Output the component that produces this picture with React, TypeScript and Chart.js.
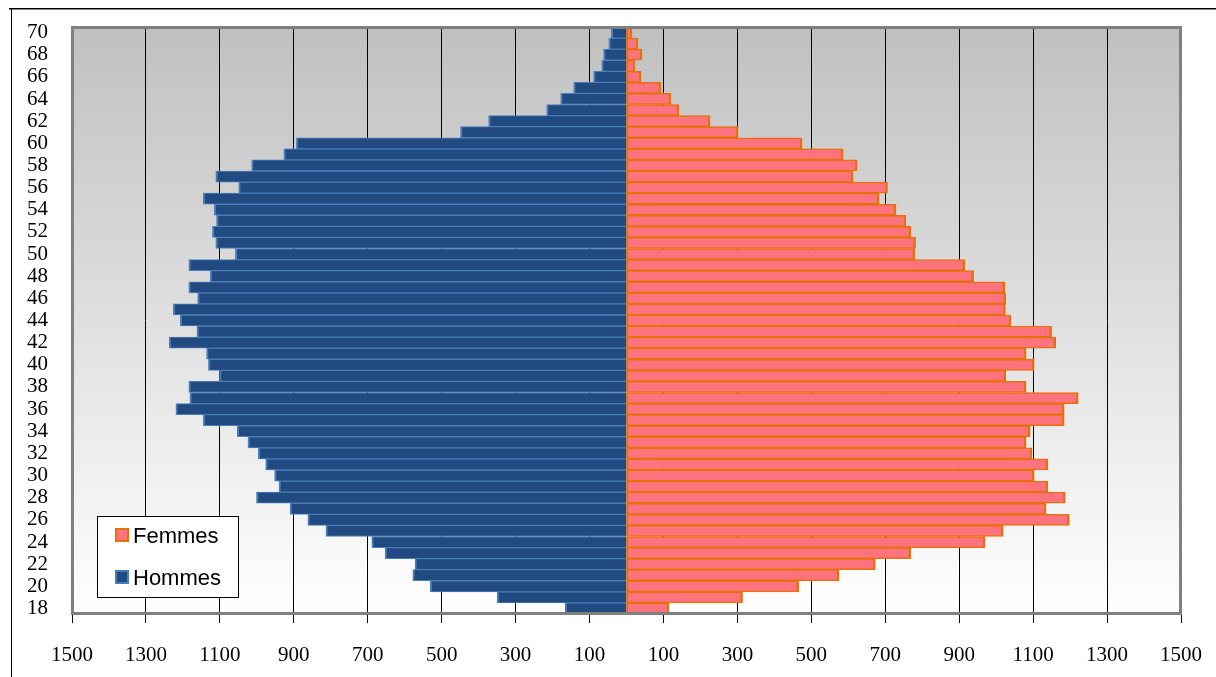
import React, { useEffect, useRef } from "react";
import { Chart, registerables } from "chart.js";

Chart.register(...registerables);

// Ages (categories), bottom to top
const ages: string[] = [
  "18", "19", "20", "21", "22", "23", "24", "25", "26", "27",
  "28", "29", "30", "31", "32", "33", "34", "35", "36", "37",
  "38", "39", "40", "41", "42", "43", "44", "45", "46", "47",
  "48", "49", "50", "51", "52", "53", "54", "55", "56", "57",
  "58", "59", "60", "61", "62", "63", "64", "65", "66", "67",
  "68", "69", "70",
];

// Hommes (men), ages 18..70
const hommes: number[] = [
  166, 350, 531, 578, 572, 653, 689, 813, 862, 910,
  1001, 940, 952, 976, 996, 1024, 1053, 1145, 1219, 1181,
  1184, 1101, 1131, 1136, 1237, 1162, 1207, 1226, 1160, 1184,
  1126, 1184, 1058, 1111, 1120, 1109, 1115, 1145, 1049, 1111,
  1014, 927, 893, 449, 373, 216, 178, 143, 89, 67,
  62, 48, 41,
];

// Femmes (women), ages 18..70
const femmes: number[] = [
  115, 314, 466, 575, 673, 769, 970, 1019, 1198, 1135,
  1187, 1140, 1103, 1140, 1097, 1081, 1092, 1184, 1184, 1222,
  1081, 1026, 1103, 1081, 1161, 1150, 1040, 1025, 1026, 1023,
  939, 915, 780, 782, 769, 756, 729, 683, 706, 613,
  624, 586, 475, 302, 226, 142, 120, 93, 39, 23,
  42, 31, 15,
];

const seriesNames: string[] = ["Femmes", "Hommes"];
const xMin = -1500;
const xMax = 1500;
const xStep = 200;

const FEMME_FILL = "#ff737f";
const FEMME_BORDER = "#e8700a";
const HOMME_FILL = "#204a80";
const HOMME_BORDER = "#4a7ebb";

const SERIF = '"Liberation Serif", "Times New Roman", serif';
const SANS = '"Liberation Sans", Arial, sans-serif';

const backgroundPlugin = {
  id: "bgPlugin",
  beforeDraw(chart: any) {
    const { ctx, chartArea, width, height } = chart;
    ctx.save();
    ctx.fillStyle = "#ffffff";
    ctx.fillRect(0, 0, width, height);
    const g = ctx.createLinearGradient(0, chartArea.top, 0, chartArea.bottom);
    g.addColorStop(0, "#c0c0c0");
    g.addColorStop(1, "#ffffff");
    ctx.fillStyle = g;
    ctx.fillRect(chartArea.left, chartArea.top, chartArea.right - chartArea.left, chartArea.bottom - chartArea.top);
    // outer frame (top and left)
    ctx.fillStyle = "#000000";
    ctx.fillRect(9, 8, width - 9, 1);
    ctx.fillStyle = "#808080";
    ctx.fillRect(9, 9, width - 9, 1);
    ctx.fillStyle = "#000000";
    ctx.fillRect(11, 9, 1, height - 9);
    ctx.restore();
  },
};

const frameAndLegendPlugin = {
  id: "frameLegend",
  afterDatasetsDraw(chart: any) {
    const { ctx, chartArea } = chart;
    ctx.save();
    ctx.strokeStyle = "#808080";
    ctx.lineWidth = 3;
    ctx.strokeRect(
      chartArea.left + 0.5,
      chartArea.top + 0.5,
      chartArea.right - chartArea.left - 1,
      chartArea.bottom - chartArea.top - 1
    );
    ctx.restore();
  },
  afterDraw(chart: any) {
    const { ctx, chartArea } = chart;
    const bx = chartArea.left + 25;
    const by = chartArea.bottom - 98;
    const bw = 141;
    const bh = 81;
    ctx.save();
    ctx.fillStyle = "#ffffff";
    ctx.fillRect(bx, by, bw, bh);
    ctx.strokeStyle = "#000000";
    ctx.lineWidth = 1;
    ctx.strokeRect(bx + 0.5, by + 0.5, bw, bh);
    const items = chart.data.datasets;
    items.forEach((ds: any, i: number) => {
      const sy = by + 12 + i * 42;
      const sx = bx + 18;
      ctx.fillStyle = ds.backgroundColor;
      ctx.fillRect(sx, sy, 14, 14);
      ctx.strokeStyle = ds.borderColor;
      ctx.lineWidth = 2;
      ctx.strokeRect(sx + 1, sy + 1, 12, 12);
      ctx.fillStyle = "#000000";
      ctx.font = `22px ${SANS}`;
      ctx.textBaseline = "alphabetic";
      ctx.textAlign = "left";
      ctx.fillText(ds.label, sx + 18, sy + 15);
    });
    ctx.restore();
  },
};

export default function App() {
  const canvasRef = useRef<HTMLCanvasElement | null>(null);

  useEffect(() => {
    const canvas = canvasRef.current;
    if (!canvas) return;
    const chart = new Chart(canvas, {
      type: "bar",
      data: {
        labels: ages,
        datasets: [
          {
            label: seriesNames[0],
            data: femmes,
            backgroundColor: FEMME_FILL,
            borderColor: FEMME_BORDER,
            borderWidth: { top: 1.5, bottom: 1.5, left: 2, right: 2.5 },
            borderSkipped: false,
            barPercentage: 1,
            categoryPercentage: 1,
          },
          {
            label: seriesNames[1],
            data: hommes.map((v) => -v),
            backgroundColor: HOMME_FILL,
            borderColor: HOMME_BORDER,
            borderWidth: { top: 1, bottom: 1, left: 2, right: 2 },
            barPercentage: 1,
            categoryPercentage: 1,
          },
        ],
      },
      options: {
        indexAxis: "y",
        animation: false,
        responsive: false,
        maintainAspectRatio: false,
        devicePixelRatio: 1,
        layout: { padding: { top: 27, right: 35, left: 0, bottom: 0 } },
        plugins: {
          legend: { display: false },
          tooltip: { enabled: false },
          title: { display: false },
        },
        scales: {
          x: {
            type: "linear",
            min: xMin,
            max: xMax,
            stacked: true,
            afterFit: (scale: any) => {
              scale.height = 63;
              scale.paddingLeft = 0;
              scale.paddingRight = 0;
            },
            border: { display: false },
            grid: {
              color: "#000000",
              lineWidth: 1,
              drawTicks: true,
              tickLength: 9,
              tickColor: "#000000",
            },
            ticks: {
              stepSize: xStep,
              color: "#000000",
              padding: 20,
              maxRotation: 0,
              autoSkip: false,
              font: { family: SERIF, size: 21 },
              callback: (v: any) => String(Math.abs(Number(v))),
            },
          },
          y: {
            type: "category",
            reverse: true,
            stacked: true,
            afterFit: (scale: any) => {
              scale.width = 72;
              scale.paddingTop = 0;
              scale.paddingBottom = 0;
            },
            border: { display: false },
            grid: { display: false, drawTicks: false },
            ticks: {
              autoSkip: false,
              color: "#000000",
              padding: 24,
              font: { family: SERIF, size: 21 },
              callback: (_v: any, idx: number) => (Number(ages[idx]) % 2 === 0 ? ages[idx] : ""),
            },
          },
        },
      },
      plugins: [backgroundPlugin, frameAndLegendPlugin],
    });
    return () => chart.destroy();
  }, []);

  return (
    <div style={{ position: "absolute", left: 0, top: 0, width: 1216, height: 677 }}>
      <canvas ref={canvasRef} width={1216} height={677} style={{ display: "block", width: 1216, height: 677 }} />
    </div>
  );
}
